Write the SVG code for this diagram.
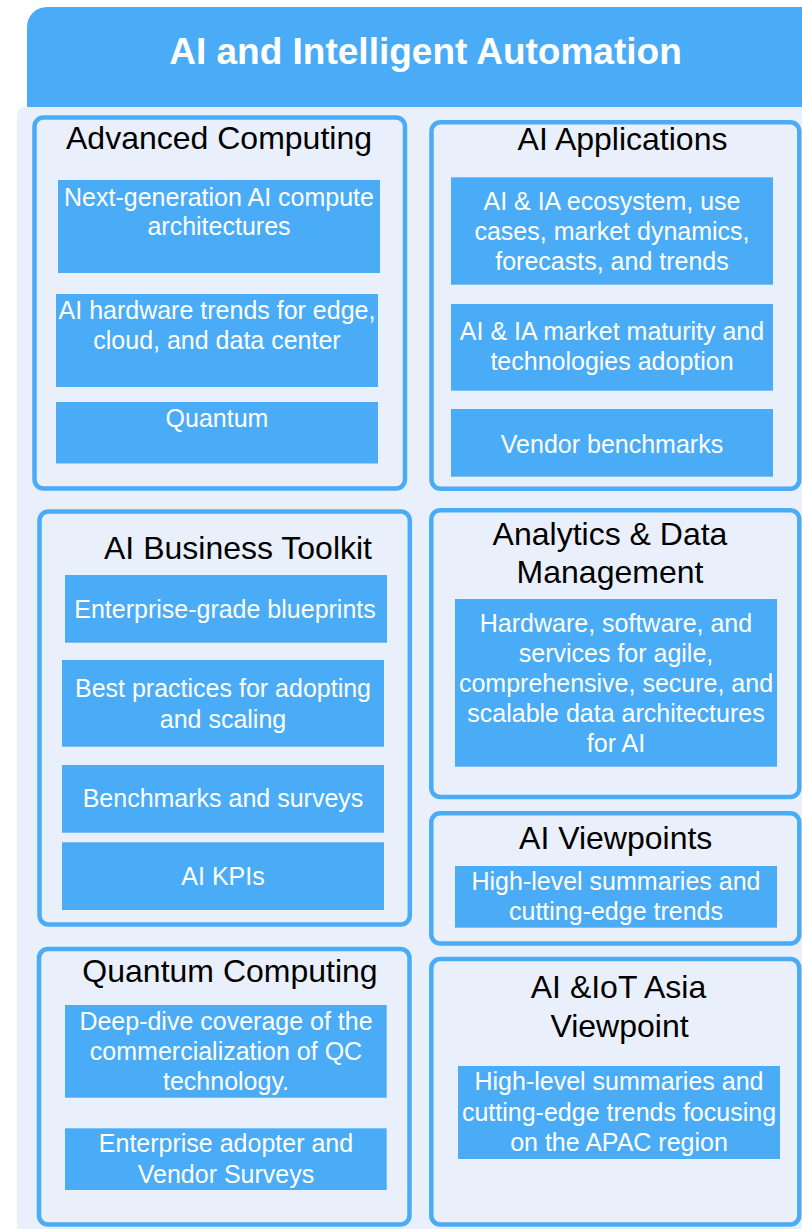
<svg xmlns="http://www.w3.org/2000/svg" width="802" height="1229" viewBox="0 0 802 1229">
  <style>
    .panel { fill: #EAF0FB; }
    .header { fill: #4AACF7; }
    .card { fill: #EAF0FB; stroke: #4AACF7; stroke-width: 4.5; }
    .item { fill: #4AACF7; }
    .htitle { font-family: "Liberation Sans", Arial, sans-serif; font-weight: bold; font-size: 37px; fill: #FFFFFF; text-anchor: middle; }
    .ctitle { font-family: "Liberation Sans", Arial, sans-serif; font-size: 32px; fill: #000000; text-anchor: middle; }
    .itext { font-family: "Liberation Sans", Arial, sans-serif; font-size: 25px; fill: #FFFFFF; text-anchor: middle; }
  </style>

  <!-- background panel and header band -->
  <rect class="panel" x="17" y="107" width="800" height="1140" rx="8"/>
  <g id="header">
    <path class="header" d="M27 107 V27 A20 20 0 0 1 47 7 H812 V107 Z"/>
    <text class="htitle" x="425.5" y="64">AI and Intelligent Automation</text>
  </g>

  <!-- Advanced Computing -->
  <g id="advanced-computing">
    <rect class="card" x="34.5" y="117.5" width="370.5" height="371" rx="9"/>
    <text class="ctitle" x="219" y="149">Advanced Computing</text>
    <rect class="item" x="58" y="180" width="322" height="93"/>
    <text class="itext" x="219" y="206">Next-generation AI compute</text>
    <text class="itext" x="219" y="235">architectures</text>
    <rect class="item" x="56" y="294" width="322" height="93"/>
    <text class="itext" x="217" y="318.5">AI hardware trends for edge,</text>
    <text class="itext" x="217" y="349">cloud, and data center</text>
    <rect class="item" x="56" y="402" width="322" height="61.5"/>
    <text class="itext" x="217" y="426.5">Quantum</text>
  </g>

  <!-- AI Applications -->
  <g id="ai-applications">
    <rect class="card" x="431.5" y="122.2" width="367.8" height="366.6" rx="9"/>
    <text class="ctitle" x="622.5" y="150">AI Applications</text>
    <rect class="item" x="451" y="177.3" width="322" height="107.4"/>
    <text class="itext" x="612" y="210">AI &amp; IA ecosystem, use</text>
    <text class="itext" x="612" y="240">cases, market dynamics,</text>
    <text class="itext" x="612" y="270">forecasts, and trends</text>
    <rect class="item" x="451" y="304" width="322" height="86.7"/>
    <text class="itext" x="612" y="340">AI &amp; IA market maturity and</text>
    <text class="itext" x="612" y="370">technologies adoption</text>
    <rect class="item" x="451" y="409" width="322" height="67.7"/>
    <text class="itext" x="612" y="452.7">Vendor benchmarks</text>
  </g>

  <!-- AI Business Toolkit -->
  <g id="ai-business-toolkit">
    <rect class="card" x="39.5" y="511.5" width="370.3" height="413" rx="9"/>
    <text class="ctitle" x="238" y="559.3">AI Business Toolkit</text>
    <rect class="item" x="65" y="575" width="322" height="67.7"/>
    <text class="itext" x="225" y="618.3">Enterprise-grade blueprints</text>
    <rect class="item" x="62" y="660" width="322" height="86.7"/>
    <text class="itext" x="223" y="697.3">Best practices for adopting</text>
    <text class="itext" x="223" y="728.3">and scaling</text>
    <rect class="item" x="62" y="765" width="322" height="67.7"/>
    <text class="itext" x="223" y="807.3">Benchmarks and surveys</text>
    <rect class="item" x="62" y="842.3" width="322" height="67.7"/>
    <text class="itext" x="223" y="885">AI KPIs</text>
  </g>

  <!-- Quantum Computing -->
  <g id="quantum-computing">
    <rect class="card" x="39" y="949" width="370.5" height="275.5" rx="9"/>
    <text class="ctitle" x="230" y="981.7">Quantum Computing</text>
    <rect class="item" x="65" y="1005" width="321.7" height="92.7"/>
    <text class="itext" x="226" y="1030">Deep-dive coverage of the</text>
    <text class="itext" x="226" y="1060">commercialization of QC</text>
    <text class="itext" x="226" y="1090">technology.</text>
    <rect class="item" x="65" y="1128.3" width="321.7" height="61.7"/>
    <text class="itext" x="226" y="1151.7">Enterprise adopter and</text>
    <text class="itext" x="226" y="1182.7">Vendor Surveys</text>
  </g>

  <!-- Analytics & Data Management -->
  <g id="analytics-data-management">
    <rect class="card" x="431.3" y="510.3" width="368" height="286.7" rx="9"/>
    <text class="ctitle" x="610" y="545">Analytics &amp; Data</text>
    <text class="ctitle" x="610" y="583.3">Management</text>
    <rect class="item" x="455" y="599" width="322" height="167.7"/>
    <text class="itext" x="616" y="631.7">Hardware, software, and</text>
    <text class="itext" x="616" y="661.7">services for agile,</text>
    <text class="itext" x="616" y="691.7">comprehensive, secure, and</text>
    <text class="itext" x="616" y="721.7">scalable data architectures</text>
    <text class="itext" x="616" y="751.7">for AI</text>
  </g>

  <!-- AI Viewpoints -->
  <g id="ai-viewpoints">
    <rect class="card" x="431.3" y="813.2" width="368" height="130.3" rx="9"/>
    <text class="ctitle" x="615.7" y="849.3">AI Viewpoints</text>
    <rect class="item" x="455" y="866" width="322" height="61.7"/>
    <text class="itext" x="616" y="890">High-level summaries and</text>
    <text class="itext" x="616" y="920">cutting-edge trends</text>
  </g>

  <!-- AI & IoT Asia Viewpoint -->
  <g id="ai-iot-asia-viewpoint">
    <rect class="card" x="431.3" y="959" width="368" height="265.5" rx="9"/>
    <text class="ctitle" x="618.5" y="998.3">AI &amp;IoT Asia</text>
    <text class="ctitle" x="619.5" y="1037.3">Viewpoint</text>
    <rect class="item" x="458" y="1066" width="322" height="93"/>
    <text class="itext" x="619" y="1090">High-level summaries and</text>
    <text class="itext" x="619" y="1120.7">cutting-edge trends focusing</text>
    <text class="itext" x="619" y="1150.7">on the APAC region</text>
  </g>
</svg>
